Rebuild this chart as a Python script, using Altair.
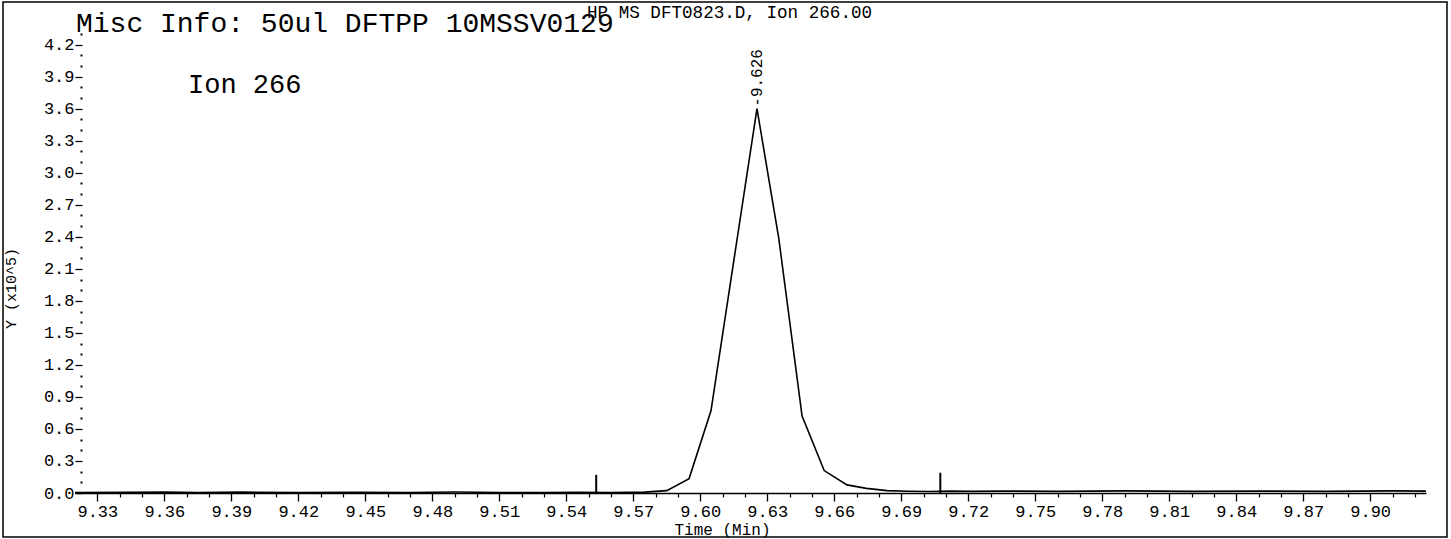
import altair as alt
import pandas as pd

# ---------------- data ----------------
# retention time (min) and abundance (x10^5) of the Ion 266 trace
times = [9.320, 9.345, 9.360, 9.375, 9.395, 9.420, 9.445, 9.470, 9.490, 9.510,
         9.530, 9.545, 9.560, 9.575, 9.585, 9.595, 9.6048, 9.6152, 9.6254, 9.6352,
         9.6456, 9.6555, 9.6657, 9.6744, 9.6836, 9.693, 9.703, 9.712, 9.722, 9.735,
         9.760, 9.790, 9.820, 9.850, 9.880, 9.910, 9.925]
intensity = [0.004, 0.006, 0.009, 0.005, 0.008, 0.004, 0.006, 0.005, 0.009, 0.005,
             0.004, 0.006, 0.005, 0.008, 0.022, 0.135, 0.77, 2.20, 3.60, 2.38,
             0.72, 0.21, 0.076, 0.043, 0.022, 0.016, 0.014, 0.018, 0.015, 0.018,
             0.015, 0.020, 0.015, 0.018, 0.015, 0.020, 0.018]

# integration start / end markers
marker_times = [9.5534, 9.7075]
marker_heights = [0.17, 0.19]

# labelled peak
peak_time = [9.6254]
peak_value = [3.60]
peak_label = ["-9.626"]

# axis ticks
x_major = [9.33, 9.36, 9.39, 9.42, 9.45, 9.48, 9.51, 9.54, 9.57, 9.60,
           9.63, 9.66, 9.69, 9.72, 9.75, 9.78, 9.81, 9.84, 9.87, 9.90]
x_minor = [9.34, 9.35, 9.37, 9.38, 9.40, 9.41, 9.43, 9.44, 9.46, 9.47,
           9.49, 9.50, 9.52, 9.53, 9.55, 9.56, 9.58, 9.59, 9.61, 9.62,
           9.64, 9.65, 9.67, 9.68, 9.70, 9.71, 9.73, 9.74, 9.76, 9.77,
           9.79, 9.80, 9.82, 9.83, 9.85, 9.86, 9.88, 9.89, 9.91, 9.92]
y_major = [0.0, 0.3, 0.6, 0.9, 1.2, 1.5, 1.8, 2.1, 2.4, 2.7, 3.0, 3.3, 3.6, 3.9, 4.2]
y_minor = [0.1, 0.2, 0.4, 0.5, 0.7, 0.8, 1.0, 1.1, 1.3, 1.4, 1.6, 1.7, 1.9, 2.0,
           2.2, 2.3, 2.5, 2.6, 2.8, 2.9, 3.1, 3.2, 3.4, 3.5, 3.7, 3.8, 4.0, 4.1, 4.3]

x_domain = [9.32, 9.925]
y_domain = [0.0, 4.3]

title_text = ["Misc Info: 50ul DFTPP 10MSSV0129"]
header_text = ["HP MS DFT0823.D, Ion 266.00"]
ion_text = ["Ion 266"]

# ---------------- chart ----------------
MONO = "Liberation Mono"
BIG = "Liberation Mono"

trace_df = pd.DataFrame({"t": times, "v": intensity})
marker_df = pd.DataFrame({"mt": marker_times, "mh": marker_heights, "m0": [0.0, 0.0]})
peak_df = pd.DataFrame({"pt": peak_time, "pv": peak_value, "lab": peak_label})

xs = alt.Scale(domain=x_domain, nice=False, zero=False)
ys = alt.Scale(domain=y_domain, nice=False, zero=False)

major_x = alt.Axis(values=x_major, format=".2f", orient="bottom", grid=False,
                   tickSize=8, tickWidth=1.3, tickColor="black",
                   domain=True, domainColor="black", domainWidth=1.5,
                   labelFont=MONO, labelFontSize=17, labelColor="black",
                   labelPadding=2, labelFlush=False,
                   title="Time (Min)", titleFont=MONO, titleFontSize=16,
                   titleFontWeight="normal", titleColor="black",
                   titleX=647, titleY=41, titleBaseline="alphabetic")
minor_x = alt.Axis(values=x_minor, orient="bottom", grid=False, labels=False,
                   tickSize=4, tickWidth=1.2, tickColor="black", domain=False,
                   title=None)
major_y = alt.Axis(values=y_major, format=".1f", orient="left", grid=False,
                   tickSize=7, tickWidth=1.3, tickColor="black", offset=-7,
                   domain=False, labelFont=MONO, labelFontSize=17,
                   labelColor="black", labelPadding=1, labelFlush=False,
                   title="Y (x10^5)", titleFont=MONO, titleFontSize=15,
                   titleFontWeight="normal", titleColor="black",
                   titleX=-72, titleY=254, titleBaseline="middle", titleAngle=270)
minor_y = alt.Axis(values=y_minor, orient="left", grid=False, labels=False,
                   tickSize=2, tickWidth=2, tickColor="black", offset=-7,
                   domain=False, title=None)

trace = alt.Chart(trace_df).mark_line(color="black", strokeWidth=1.6).encode(
    x=alt.X("t:Q", scale=xs, axis=major_x),
    y=alt.Y("v:Q", scale=ys, axis=major_y),
)

markers = alt.Chart(marker_df).mark_rule(color="black", strokeWidth=2).encode(
    x=alt.X("mt:Q", scale=xs, axis=minor_x),
    y=alt.Y("m0:Q", scale=ys, axis=minor_y),
    y2="mh:Q",
)

peak = alt.Chart(peak_df).mark_text(angle=270, align="left", baseline="middle",
                                    dx=2, font=MONO, fontSize=16, color="black").encode(
    x=alt.X("pt:Q", scale=xs, axis=None),
    y=alt.Y("pv:Q", scale=ys, axis=None),
    text="lab:N",
)

title = alt.Chart(pd.DataFrame({"s": title_text})).mark_text(
    align="left", baseline="alphabetic", font=BIG, fontSize=28, color="black"
).encode(x=alt.value(1), y=alt.value(-2), text="s:N")

header = alt.Chart(pd.DataFrame({"s": header_text})).mark_text(
    align="left", baseline="alphabetic", font=MONO, fontSize=17.6, color="black"
).encode(x=alt.value(512), y=alt.value(-16), text="s:N")

ion = alt.Chart(pd.DataFrame({"s": ion_text})).mark_text(
    align="left", baseline="alphabetic", font=BIG, fontSize=27, color="black"
).encode(x=alt.value(113), y=alt.value(59), text="s:N")

frame = alt.Chart(pd.DataFrame({"a": [0]})).mark_rect(
    filled=False, stroke="black", strokeWidth=1.5
).encode(x=alt.value(-72), x2=alt.value(1372), y=alt.value(-32), y2=alt.value(503))

chart = alt.layer(trace, markers, peak, title, header, ion, frame).resolve_axis(
    x="independent", y="independent"
).properties(
    width=1351, height=459,
    padding={"left": 75, "top": 34, "right": 25, "bottom": 46},
    autosize=alt.AutoSizeParams(type="none"),
    background="white",
).configure_view(strokeWidth=0)

chart.save("out.html", embed_options={"renderer": "svg", "actions": False})
